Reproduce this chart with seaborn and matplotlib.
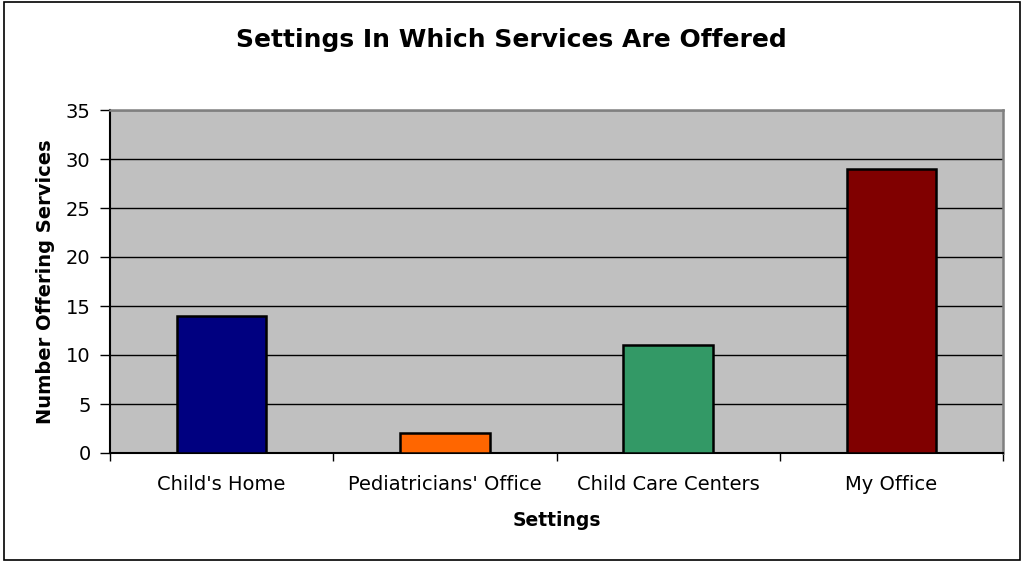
import matplotlib
matplotlib.use("Agg")
import matplotlib.pyplot as plt
import seaborn as sns
import pandas as pd
from matplotlib.patches import Rectangle

categories = ["Child's Home", "Pediatricians' Office", "Child Care Centers", "My Office"]
values = [14, 2, 11, 29]
colors = ["#000080", "#FF6600", "#339966", "#800000"]

sns.set_style("white")
plt.rcParams['font.family'] = ['DejaVu Sans']
plt.rcParams['text.color'] = 'black'
plt.rcParams['axes.labelcolor'] = 'black'
plt.rcParams['xtick.color'] = 'black'
plt.rcParams['ytick.color'] = 'black'

df = pd.DataFrame({"Settings": categories, "Number": values})

fig = plt.figure(figsize=(10.22, 5.61), dpi=100)
ax = fig.add_axes([110/1022, 1 - 453/561, 893/1022, 343/561])
ax.set_facecolor("#C0C0C0")

sns.barplot(data=df, x="Settings", y="Number", hue="Settings", palette=colors,
            saturation=1, legend=False, width=0.4, edgecolor="black",
            linewidth=1.8, ax=ax, zorder=3)

ax.set_ylim(0, 35)
ax.set_xlim(-0.5, 3.5)
ax.set_yticks(range(0, 36, 5))
ax.yaxis.grid(True, color="black", linewidth=1.0, zorder=1)
ax.set_axisbelow(True)

ax.tick_params(axis="y", direction="out", length=7, width=1, color="black",
               labelsize=14, pad=7, left=True, labelcolor="black")
ax.tick_params(axis="x", which="major", length=0, labelsize=14, pad=16,
               labelcolor="black")
ax.set_xticks([-0.5, 0.5, 1.5, 2.5, 3.5], minor=True)
ax.tick_params(axis="x", which="minor", direction="out", length=6, width=1,
               color="black", bottom=True)

for s in ["left", "bottom"]:
    ax.spines[s].set_color("black")
    ax.spines[s].set_linewidth(1.5)
for s in ["top", "right"]:
    ax.spines[s].set_color("#808080")
    ax.spines[s].set_linewidth(1.8)

ax.set_xlabel("Settings", fontsize=13.5, fontweight="bold", labelpad=12, color="black")
ax.set_ylabel("Number Offering Services", fontsize=14, fontweight="bold",
              labelpad=8, color="black")
fig.suptitle("Settings In Which Services Are Offered", fontsize=18,
             fontweight="bold", y=1 - 40/561, va="center", color="black")

fig.patches.append(Rectangle((4/1022, 1/561), 1016/1022, 558/561,
                             transform=fig.transFigure, fill=False,
                             edgecolor="black", linewidth=1.2))

fig.savefig("out.png", dpi=100)
